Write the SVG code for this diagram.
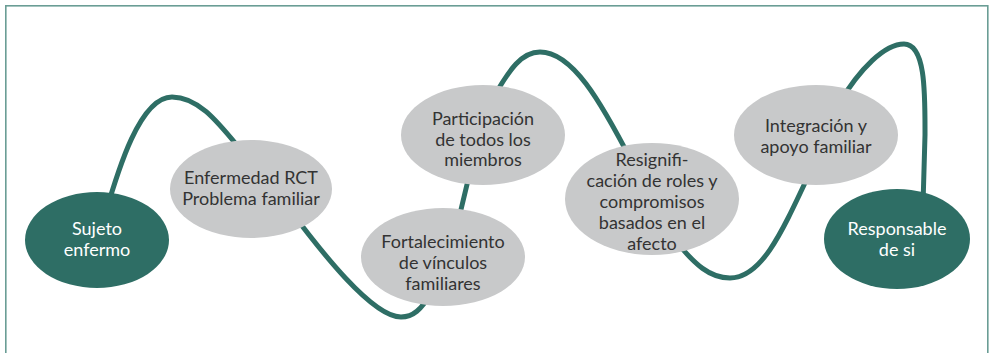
<svg xmlns="http://www.w3.org/2000/svg" width="989" height="353" viewBox="0 0 989 353">
<style>
.frame{fill:none;stroke:#6a9d95;stroke-width:1.6}
.curve{fill:none;stroke:#2e6e65;stroke-width:5;stroke-linecap:round}
.grey{fill:#c8c9ca}
.dark{fill:#2e6e65}
text{font-family:Lato,"Open Sans",sans-serif;font-size:18px;text-anchor:middle}
.tg{fill:#333333}
.tw{fill:#ffffff}
</style>
<rect class="frame" x="5.8" y="5.8" width="982" height="360"/>
<g id="connectors">
<path class="curve" d="M105 215 C118 170 140 97 172 97 C200 97 220 125 245 155"/>
<path class="curve" d="M290 210 C320 250 372 317 401 317 C413 317 421 310 432 292"/>
<path class="curve" d="M458 222 L470 172"/>
<path class="curve" d="M492 100 C510 68 522 52 540 52 C572 52 600 100 632 162"/>
<path class="curve" d="M675 240 C695 265 710 278 730 278 C762 278 782 232 812 168"/>
<path class="curve" d="M838 105 C860 68 885 44 904 44 C926 44 925 95 925 135 L923 205"/>
</g>
<g id="sujeto"><ellipse class="dark" cx="97" cy="240" rx="72" ry="48"/><text class="tw" x="97" y="235">Sujeto</text><text class="tw" x="97" y="256">enfermo</text></g>
<g id="enfermedad"><ellipse class="grey" cx="251" cy="189" rx="81" ry="49"/><text class="tg" x="251" y="184">Enfermedad RCT</text><text class="tg" x="251" y="205">Problema familiar</text></g>
<g id="participacion"><ellipse class="grey" cx="483" cy="135" rx="82" ry="50"/><text class="tg" x="483" y="125">Participación</text><text class="tg" x="483" y="145.5">de todos los</text><text class="tg" x="483" y="166">miembros</text></g>
<g id="fortalecimiento"><ellipse class="grey" cx="443" cy="257" rx="82" ry="49"/><text class="tg" x="443" y="248">Fortalecimiento</text><text class="tg" x="443" y="269">de vínculos</text><text class="tg" x="443" y="290">familiares</text></g>
<g id="resignificacion"><ellipse class="grey" cx="652" cy="199" rx="87" ry="56"/><text class="tg" x="652" y="166">Resignifi-</text><text class="tg" x="652" y="187">cación de roles y</text><text class="tg" x="652" y="208">compromisos</text><text class="tg" x="652" y="229">basados en el</text><text class="tg" x="652" y="250">afecto</text></g>
<g id="integracion"><ellipse class="grey" cx="816" cy="135" rx="82" ry="50"/><text class="tg" x="816" y="132">Integración y</text><text class="tg" x="816" y="153">apoyo familiar</text></g>
<g id="responsable"><ellipse class="dark" cx="897" cy="239" rx="73" ry="50"/><text class="tw" x="897" y="235">Responsable</text><text class="tw" x="897" y="256">de si</text></g>
</svg>
